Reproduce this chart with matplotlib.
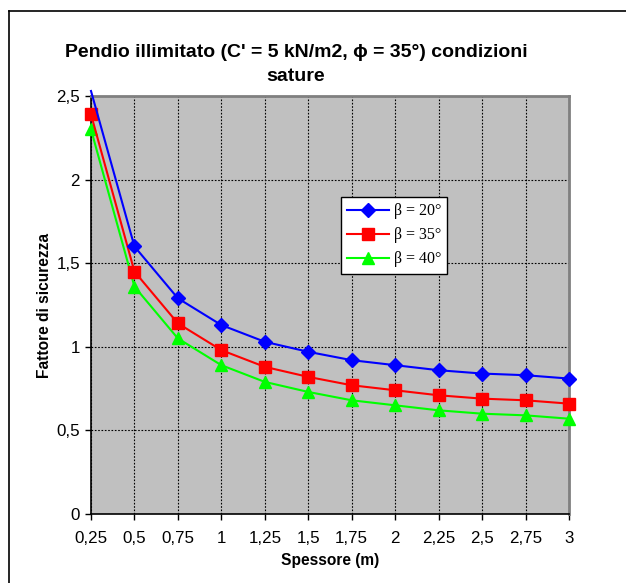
import matplotlib
matplotlib.use("Agg")
import matplotlib.pyplot as plt
from matplotlib.lines import Line2D
from matplotlib.ticker import FixedLocator, FuncFormatter

plt.rcParams['font.family'] = ['Liberation Sans', 'DejaVu Sans']

spessore = [0.25, 0.5, 0.75, 1.0, 1.25, 1.5, 1.75, 2.0, 2.25, 2.5, 2.75, 3.0]
fs_20 = [2.53, 1.60, 1.29, 1.13, 1.03, 0.97, 0.92, 0.89, 0.86, 0.84, 0.83, 0.81]
fs_35 = [2.39, 1.45, 1.14, 0.98, 0.88, 0.82, 0.77, 0.74, 0.71, 0.69, 0.68, 0.66]
fs_40 = [2.30, 1.36, 1.05, 0.89, 0.79, 0.73, 0.68, 0.65, 0.62, 0.60, 0.59, 0.57]
labels = ["β = 20°", "β = 35°", "β = 40°"]
x_ticks = [0.25, 0.5, 0.75, 1.0, 1.25, 1.5, 1.75, 2.0, 2.25, 2.5, 2.75, 3.0]
y_ticks = [0, 0.5, 1, 1.5, 2, 2.5]

W, H = 626, 583
fig = plt.figure(figsize=(W / 100, H / 100), dpi=100)
fig.patch.set_facecolor('white')

# outer chart border (cropped on right / bottom)
fig.add_artist(Line2D([9 / W, 9 / W], [1 - 11 / H, -0.05], color='black', lw=1.2,
                      transform=fig.transFigure))
fig.add_artist(Line2D([9 / W, 1.05], [1 - 11 / H, 1 - 11 / H], color='black', lw=1.2,
                      transform=fig.transFigure))

ax = fig.add_axes([91 / W, (H - 514) / H, (569 - 91) / W, (514 - 96) / H])
ax.set_facecolor('#C0C0C0')

ax.plot(spessore, fs_20, color='#0000FF', lw=1.5, marker='D', ms=7, markevery=list(range(1, 12)),
        label=labels[0], clip_on=False, zorder=5)
ax.plot(spessore, fs_35, color='#FF0000', lw=1.5, marker='s', ms=8,
        label=labels[1], clip_on=False, zorder=4)
ax.plot(spessore, fs_40, color='#00FF00', lw=1.5, marker='^', ms=9,
        label=labels[2], clip_on=False, zorder=3)

ax.set_xlim(0.25, 3.0)
ax.set_ylim(0, 2.5)
ax.xaxis.set_major_locator(FixedLocator(x_ticks))
ax.yaxis.set_major_locator(FixedLocator(y_ticks))
fmt = FuncFormatter(lambda v, p: ('%g' % v).replace('.', ','))
ax.xaxis.set_major_formatter(fmt)
ax.yaxis.set_major_formatter(fmt)
ax.tick_params(direction='out', length=4, width=1, colors='black', labelsize=12.2, pad=4)
ax.tick_params(axis='x', pad=8)
ax.grid(True, color='black', linestyle=(0, (1.5, 1.5)), lw=0.8)
ax.set_axisbelow(True)

for s in ['left', 'bottom']:
    ax.spines[s].set_color('black')
    ax.spines[s].set_linewidth(1.2)
for s in ['top', 'right']:
    ax.spines[s].set_color('#808080')
    ax.spines[s].set_linewidth(2)

ax.set_xlabel('Spessore (m)', fontsize=11.2, fontweight='bold', labelpad=5)
ax.set_ylabel('Fattore di sicurezza', fontsize=11.2, fontweight='bold', labelpad=3)

fig.text(296 / W, 1 - 64.5 / H, "Pendio illimitato (C' = 5 kN/m2, ϕ = 35°) condizioni\nsature",
         ha='center', va='center', fontsize=14, fontweight='bold', linespacing=1.55)

leg = ax.legend(loc='upper left', bbox_to_anchor=((341 - 91) / (569 - 91), (514 - 197) / (514 - 96)),
                prop={'family': 'Liberation Serif', 'size': 11.5},
                frameon=True, fancybox=False, edgecolor='black', framealpha=1,
                handlelength=2.6, handletextpad=0.3, borderpad=0.4, labelspacing=0.5,
                borderaxespad=0)
leg.get_frame().set_linewidth(1)

fig.savefig('out.png', dpi=100)
